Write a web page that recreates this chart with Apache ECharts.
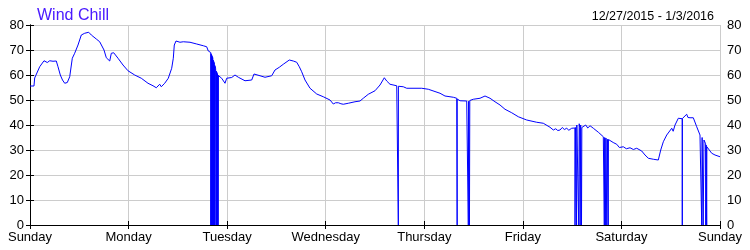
<!DOCTYPE html>
<html>
<head>
<meta charset="utf-8">
<script src="https://cdn.jsdelivr.net/npm/echarts@6/dist/echarts.min.js"></script>
<style>
html,body{margin:0;padding:0;background:#fff;}
#chart{width:750px;height:250px;}
</style>
</head>
<body>
<div id="chart"></div>
<script>
// Chart text
var chartTitle = 'Wind Chill';
var dateRange = '12/27/2015 - 1/3/2016';
var dayLabels = ['Sunday','Monday','Tuesday','Wednesday','Thursday','Friday','Saturday','Sunday'];
var yTicks = [0,10,20,30,40,50,60,70,80];

// Hours since Sunday 00:00 and wind chill readings (°F)
var hours = [
 0.00,0.97,1.14,1.58,2.36,3.41,4.21,4.80,5.60,6.40,6.82,7.38,7.91,8.45,9.08,9.67,10.30,10.88,11.69,12.49,13.32,13.80,14.29,14.93,16.14,16.97,18.02,18.58,19.41,19.80,20.38,21.43,22.64,23.86,25.49,27.10,28.73,29.95,30.75,31.20,31.58,31.97,32.80,33.67,34.50,34.89,35.13,35.55,36.52,36.94,37.33,38.96,40.59,42.20,43.02,43.41,43.83,
 44.00,44.02,44.10,44.12,44.16,44.24,44.28,44.36,44.40,44.48,44.52,44.60,44.64,44.72,44.76,44.84,44.88,44.96,45.00,45.06,45.12,45.20,45.30,45.32,45.40,45.44,45.52,45.56,45.64,45.68,45.76,45.80,45.86,
 46.09,46.67,47.48,47.89,49.11,49.91,50.72,52.35,53.98,54.54,56.00,57.22,58.85,59.65,60.70,61.67,63.13,64.11,64.94,65.57,66.15,66.96,68.18,69.81,71.41,73.04,73.85,74.40,75.07,75.70,76.28,77.50,79.13,80.35,81.15,82.37,84.00,85.22,86.27,86.85,87.65,89.29,
 89.66,89.68,89.70,90.89,91.72,95.37,96.98,97.39,99.83,101.04,103.07,103.90,
 103.98,104.00,104.02,104.70,106.33,106.70,106.72,106.78,106.80,106.98,107.00,107.06,107.08,107.94,109.57,110.79,112.00,113.22,114.44,115.65,117.29,118.90,120.94,123.37,124.98,126.61,127.42,128.00,128.50,129.05,129.60,130.10,130.68,131.20,131.89,132.20,
 132.68,132.70,132.78,132.80,132.95,133.08,133.12,133.14,133.51,133.58,133.60,133.70,133.72,133.85,133.95,134.05,134.08,134.20,134.28,134.33,134.36,134.73,135.30,135.80,136.36,137.16,138.38,139.59,
 139.80,139.83,139.90,139.93,140.05,140.08,140.20,140.23,140.40,140.43,140.55,140.58,140.75,140.78,140.81,140.84,141.22,142.00,142.85,143.50,144.46,145.20,146.09,146.90,147.72,148.94,149.74,150.55,151.77,152.98,153.57,154.20,155.03,155.50,156.25,156.60,157.05,157.40,157.85,158.30,
 158.80,158.82,158.84,159.07,159.89,160.20,160.70,161.10,161.50,162.33,163.13,163.50,
 163.55,163.62,163.65,163.85,163.90,164.05,164.10,164.50,164.53,164.60,164.63,164.73,164.76,164.80,165.10,165.98,166.79,168.00
];
var windChill = [
 55.6,55.6,58.8,59.5,63.3,65.7,65.0,65.7,65.5,65.6,63.3,60.0,58.0,56.7,57.0,59.3,66.7,68.7,72.0,76.0,76.7,76.9,77.1,76.0,74.4,73.3,70.0,66.9,65.6,68.7,68.9,66.7,64.0,61.7,60.0,58.7,56.7,55.7,54.9,55.2,56.3,55.3,56.7,58.7,62.7,66.7,72.0,73.6,73.1,72.3,73.3,73.1,72.4,71.7,71.3,69.6,69.1,
 69.0,0,0,68.5,0,68.0,0,67.5,0,67.0,0,66.0,0,65.5,0,65.0,0,64.0,0,63.5,63.0,62.5,62.0,0,61.5,0,61.0,0,60.5,0,60.0,0,59.8,
 59.3,58.7,56.7,58.7,59.0,60.0,59.1,57.7,58.0,60.4,59.7,59.1,59.7,62.0,63.1,64.3,66.0,65.6,65.1,63.3,61.3,58.0,54.7,52.4,51.3,50.0,48.4,48.9,48.9,48.5,48.3,48.7,49.3,49.6,50.7,52.3,53.7,56.0,58.9,57.6,56.3,55.7,
 55.6,0,55.5,55.3,54.7,54.7,54.3,53.7,52.7,51.6,51.1,50.7,
 50.6,0,50.4,49.7,49.6,49.6,0,0,49.5,49.6,0,0,49.8,50.3,50.7,51.6,50.7,49.3,48.0,46.3,44.9,43.3,42.0,41.1,40.7,39.1,38.0,38.5,37.8,38.0,39.0,38.2,38.7,37.9,38.7,39.2,
 38.8,0,0,39.0,39.5,0,0,40.0,40.2,39.5,0,0,40.5,39.0,0,0,40.0,39.5,0,0,39.0,38.9,40.0,38.8,39.7,38.7,37.1,35.3,
 35.0,0,0,35.0,34.5,0,0,34.8,34.5,0,0,34.3,34.2,0,0,34.2,34.0,33.0,32.3,31.0,31.3,30.5,30.9,30.2,30.7,29.6,28.0,26.7,26.3,26.0,30.0,33.3,36.0,35.5,38.7,37.5,40.0,39.2,42.7,42.2,
 42.5,0,42.6,42.7,44.3,43.0,42.9,43.5,42.9,39.3,36.0,35.3,
 0,0,35.0,34.5,0,0,34.0,32.5,0,0,32.0,31.8,0,31.3,30.5,28.7,28.0,27.3
];

var points = hours.map(function (h, i) { return [h, windChill[i]]; });

var chart = echarts.init(document.getElementById('chart'), null, {renderer: 'canvas'});
var black = '#000000';
var gridGray = '#cccccc';
var font = 'Liberation Sans, Arial, sans-serif';

chart.setOption({
  animation: false,
  backgroundColor: '#ffffff',
  textStyle: {fontFamily: font},
  title: [
    {text: chartTitle, left: 32, top: 3, textStyle: {fontSize: 16, fontWeight: 'normal', color: '#4a1aff', fontFamily: font}},
    {text: dateRange, right: 31, top: 5, textStyle: {fontSize: 12.5, fontWeight: 'normal', color: '#000000', fontFamily: font}}
  ],
  grid: {left: 30, right: 30, top: 25, bottom: 25, containLabel: false},
  xAxis: [
    {
      type: 'value', min: 0, max: 168, interval: 24, position: 'bottom',
      axisLine: {show: true, lineStyle: {color: black, width: 1}},
      axisTick: {show: true, inside: true, length: 4, lineStyle: {color: black}},
      axisLabel: {show: true, margin: 6, fontSize: 13, color: '#000000', fontFamily: font,
        formatter: function (v) { return dayLabels[Math.round(v / 24)]; }},
      splitLine: {show: true, lineStyle: {color: gridGray, width: 1}}
    },
    {
      type: 'value', min: 0, max: 168, interval: 24, position: 'top',
      axisLine: {show: true, lineStyle: {color: black, width: 1}},
      axisTick: {show: true, inside: true, length: 4, lineStyle: {color: black}},
      axisLabel: {show: false},
      splitLine: {show: false}
    }
  ],
  yAxis: [
    {
      type: 'value', min: yTicks[0], max: yTicks[yTicks.length - 1], interval: 10, position: 'left',
      axisLine: {show: true, lineStyle: {color: black, width: 1}},
      axisTick: {show: true, inside: true, length: 4, lineStyle: {color: black}},
      axisLabel: {show: true, margin: 6, fontSize: 13, color: '#000000', fontFamily: font},
      splitLine: {show: true, lineStyle: {color: gridGray, width: 1}}
    },
    {
      type: 'value', min: yTicks[0], max: yTicks[yTicks.length - 1], interval: 10, position: 'right',
      axisLine: {show: true, lineStyle: {color: black, width: 1}},
      axisTick: {show: true, inside: true, length: 4, lineStyle: {color: black}},
      axisLabel: {show: true, margin: 7, fontSize: 13, color: '#000000', fontFamily: font},
      splitLine: {show: false}
    }
  ],
  series: [{
    type: 'line',
    data: points,
    xAxisIndex: 0,
    yAxisIndex: 0,
    showSymbol: false,
    symbol: 'none',
    smooth: false,
    lineStyle: {color: '#0000ff', width: 1},
    itemStyle: {color: '#0000ff'}
  }]
});
</script>
</body>
</html>
